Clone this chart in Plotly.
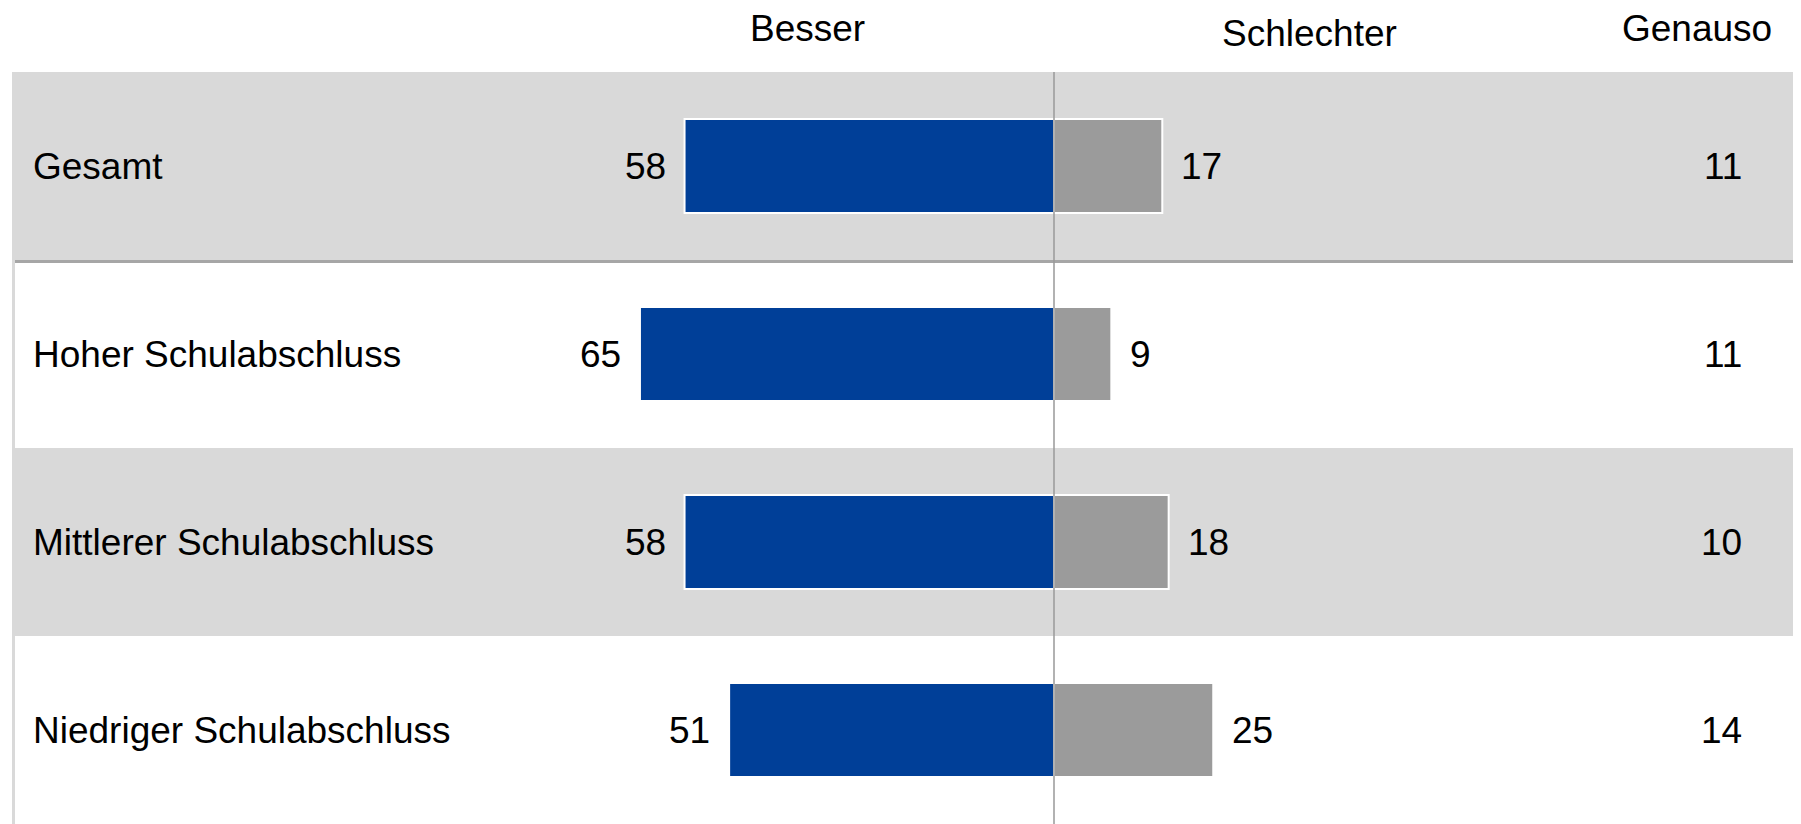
import plotly.graph_objects as go

# Data
categories = ["Gesamt", "Hoher Schulabschluss", "Mittlerer Schulabschluss", "Niedriger Schulabschluss"]
besser = [58, 65, 58, 51]
schlechter = [17, 9, 18, 25]
genauso = [11, 11, 10, 14]
headers = ["Besser", "Schlechter", "Genauso"]

# the page body has an 8px margin, so the figure is drawn 8px in from the window edge
OFF = 8
W, H = 1801 - OFF, 824 - OFF
TOP = 72 - OFF
FONT = "Liberation Sans, Arial, sans-serif"
FS = 37
BLUE = "#003F98"
GREY = "#9B9B9B"
BAND = "#D9D9D9"

# x axis: zero sits at 1054 px in the window, ~6.37 px per point
px_per = 6.37
x0_px = 1054 - OFF
xrange = [-x0_px / px_per, (W - x0_px) / px_per]


def px(x):
    # window x pixel -> paper fraction
    return (x - OFF) / W


fig = go.Figure()
fig.add_trace(go.Bar(
    y=categories, x=[-v for v in besser], orientation="h",
    marker=dict(color=BLUE, line=dict(color="white", width=2)),
    hoverinfo="skip", name="Besser"
))
fig.add_trace(go.Bar(
    y=categories, x=schlechter, orientation="h",
    marker=dict(color=GREY, line=dict(color="white", width=2)),
    hoverinfo="skip", name="Schlechter"
))

shapes = []
# alternating grey row bands
for i in range(len(categories)):
    if i % 2 == 0:
        shapes.append(dict(type="rect", xref="paper", yref="y", x0=px(12), x1=1,
                           y0=i - 0.5, y1=i + 0.5, fillcolor=BAND, line=dict(width=0), layer="below"))
# darker rule under "Gesamt"
shapes.append(dict(type="line", xref="paper", yref="y", x0=px(12), x1=1, y0=0.508, y1=0.508,
                   line=dict(color="#A6A6A6", width=3), layer="below"))
# thin left border
shapes.append(dict(type="line", xref="paper", yref="paper", x0=px(13.5), x1=px(13.5), y0=0, y1=1,
                   line=dict(color=BAND, width=3), layer="below"))
# centre line
shapes.append(dict(type="line", xref="x", yref="paper", x0=0, x1=0, y0=0, y1=1,
                   line=dict(color="#999999", width=1.5), layer="above"))

annotations = []
for i, cat in enumerate(categories):
    annotations.append(dict(text=cat, xref="paper", yref="y", x=px(31), y=cat,
                            xanchor="left", yanchor="middle", showarrow=False))
    annotations.append(dict(text=str(besser[i]), xref="x", yref="y", x=-besser[i], y=cat,
                            xanchor="right", yanchor="middle", xshift=-17, showarrow=False))
    annotations.append(dict(text=str(schlechter[i]), xref="x", yref="y", x=schlechter[i], y=cat,
                            xanchor="left", yanchor="middle", xshift=17, showarrow=False))
    annotations.append(dict(text=str(genauso[i]), xref="paper", yref="y", x=px(1744), y=cat,
                            xanchor="right", yanchor="middle", showarrow=False))

plot_h = H - TOP
header_x = [px(807), px(1309), px(1697)]
header_y = [29, 33, 29]
for t, hx, hy in zip(headers, header_x, header_y):
    annotations.append(dict(text=t, xref="paper", yref="paper", x=hx, y=1 + (TOP - (hy - OFF)) / plot_h,
                            xanchor="center", yanchor="middle", showarrow=False))

fig.update_layout(
    width=W, height=H,
    margin=dict(l=0, r=0, t=TOP, b=0, pad=0),
    barmode="relative", bargap=0.5,
    showlegend=False,
    plot_bgcolor="white", paper_bgcolor="white",
    font=dict(family=FONT, size=FS, color="black"),
    xaxis=dict(range=xrange, visible=False, showgrid=False, zeroline=False, fixedrange=True),
    yaxis=dict(categoryorder="array", categoryarray=categories, range=[3.5, -0.5],
               visible=False, showgrid=False, zeroline=False, fixedrange=True),
    shapes=shapes, annotations=annotations,
)

fig.write_html("out.html", config={"displayModeBar": False})
